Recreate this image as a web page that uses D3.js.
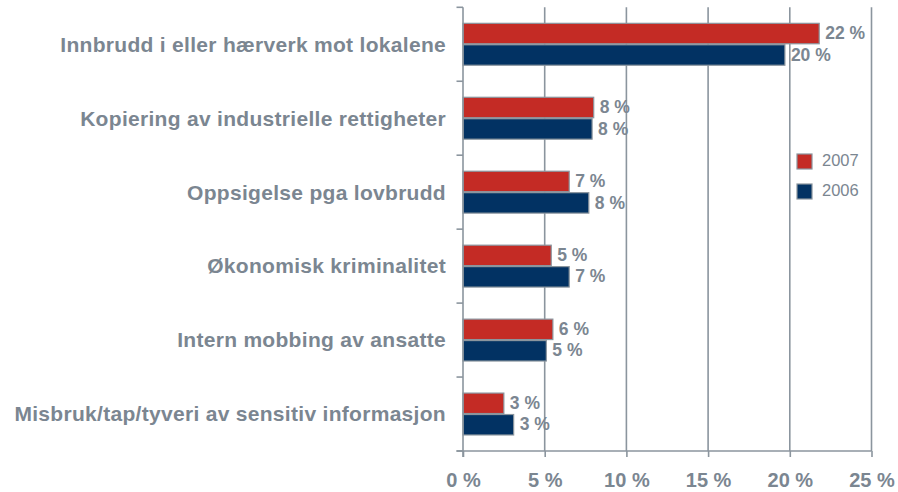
<!DOCTYPE html>
<html><head><meta charset="utf-8">
<script src="https://cdn.jsdelivr.net/npm/d3@7"></script>
<style>html,body{margin:0;padding:0;background:#fff;}svg{display:block;}</style>
</head><body>
<svg id="c" width="898" height="492"></svg>
<script>
const categories = [
  "Innbrudd i eller hærverk mot lokalene",
  "Kopiering av industrielle rettigheter",
  "Oppsigelse pga lovbrudd",
  "Økonomisk kriminalitet",
  "Intern mobbing av ansatte",
  "Misbruk/tap/tyveri av sensitiv informasjon"
];
const seriesNames = ["2007", "2006"];
const values2007 = [21.8, 8.0, 6.5, 5.4, 5.5, 2.5];
const values2006 = [19.7, 7.9, 7.7, 6.5, 5.1, 3.1];
const xTicks = [0, 5, 10, 15, 20, 25];

const colors = {"2007": "#c42b25", "2006": "#023263"};
const gray = "#7b8691";
const lineGray = "#8b959e";
const font = "'Liberation Sans', Arial, Helvetica, sans-serif";

const svg = d3.select("#c");
const x = d3.scaleLinear().domain([0, 25]).range([463, 871.5]);
const y = d3.scaleBand().domain(categories).range([7.3, 451]).paddingInner(0.42).paddingOuter(0.21);
const ys = d3.scaleBand().domain(seriesNames).range([0, y.bandwidth()]).padding(0);

// gridlines
svg.append("g").selectAll("line").data(xTicks.slice(1)).join("line")
  .attr("x1", d => x(d)).attr("x2", d => x(d))
  .attr("y1", 7.3).attr("y2", 451)
  .attr("stroke", lineGray).attr("stroke-width", 1.6);

// bars
const data = categories.map((c, i) => ({cat: c, vals: [
  {s: "2007", v: values2007[i]}, {s: "2006", v: values2006[i]}]}));
const g = svg.append("g").selectAll("g").data(data).join("g")
  .attr("transform", d => `translate(0,${y(d.cat)})`);
g.selectAll("rect").data(d => d.vals).join("rect")
  .attr("x", x(0)).attr("y", d => ys(d.s) + 0.5)
  .attr("width", d => x(d.v) - x(0)).attr("height", ys.bandwidth() - 1)
  .attr("fill", d => colors[d.s]).attr("stroke", lineGray).attr("stroke-width", 1.2);
g.selectAll("text").data(d => d.vals).join("text")
  .attr("x", d => x(d.v) + 6).attr("y", d => ys(d.s) + ys.bandwidth() / 2 + 1)
  .attr("dominant-baseline", "middle")
  .attr("font-family", font).attr("font-weight", "bold").attr("font-size", 17.5)
  .attr("fill", gray).text(d => Math.round(d.v) + " %");

// axes
const xAxis = d3.axisBottom(x).tickValues(xTicks).tickSize(6).tickFormat(d => d + " %");
const ax = svg.append("g").attr("transform", "translate(0,451)").call(xAxis);
ax.select(".domain").remove();
ax.selectAll(".tick line").attr("stroke", lineGray).attr("stroke-width", 1.6);
ax.selectAll(".tick text").attr("font-family", font).attr("font-weight", "bold")
  .attr("font-size", 20).attr("fill", gray).attr("y", 0).attr("dy", 0)
  .attr("transform", "translate(0,36)");
svg.append("line").attr("x1", 456.5).attr("x2", 871.5).attr("y1", 451).attr("y2", 451)
  .attr("stroke", lineGray).attr("stroke-width", 1.6);

const yAxis = d3.axisLeft(y).tickSize(0).tickPadding(17);
const ay = svg.append("g").attr("transform", "translate(463,0)").call(yAxis);
ay.select(".domain").remove();
ay.selectAll(".tick text").attr("font-family", font).attr("font-weight", "bold")
  .attr("font-size", 21).attr("letter-spacing", "0.3px").attr("fill", gray).attr("dy", "0.35em");
// category separator ticks
const sep = categories.map(c => y(c) - y.step() * y.paddingInner() / 2).concat([451]);
svg.append("g").selectAll("line").data(sep).join("line")
  .attr("x1", 456.5).attr("x2", 463).attr("y1", d => d).attr("y2", d => d)
  .attr("stroke", lineGray).attr("stroke-width", 1.6);
svg.append("line").attr("x1", 463).attr("x2", 463).attr("y1", 7.3).attr("y2", 457)
  .attr("stroke", lineGray).attr("stroke-width", 1.6);

// legend
const lg = svg.append("g").selectAll("g").data(seriesNames).join("g")
  .attr("transform", (d, i) => `translate(797,${154 + i * 30})`);
lg.append("rect").attr("width", 15).attr("height", 15)
  .attr("fill", d => colors[d]).attr("stroke", lineGray).attr("stroke-width", 1.2);
lg.append("text").attr("x", 25).attr("y", 8).attr("dominant-baseline", "middle")
  .attr("font-family", font).attr("font-size", 16.5).attr("fill", gray).text(d => d);
</script>
</body></html>
